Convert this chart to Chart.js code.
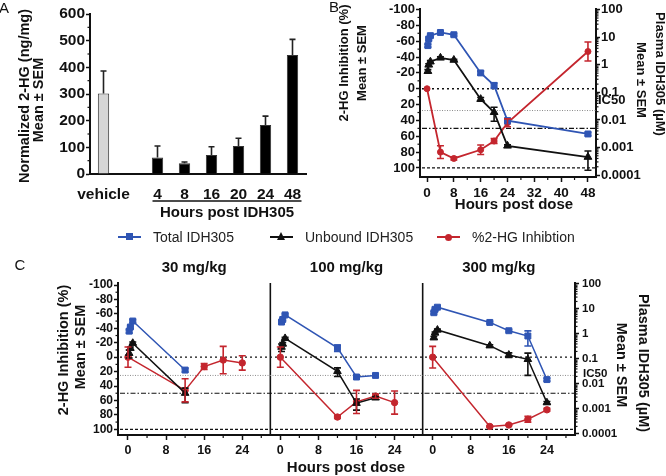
<!DOCTYPE html>
<html>
<head>
<meta charset="utf-8">
<script src="https://cdn.jsdelivr.net/npm/chart.js@4.4.0/dist/chart.umd.min.js"></script>
<style>
  html, body { margin: 0; padding: 0; background: #fff; }
  body { width: 666px; height: 476px; position: relative; overflow: hidden;
         font-family: "Liberation Sans", Arial, sans-serif; }
  canvas { position: absolute; }
  #cA { left: 0; top: 0; }
  #cB { left: 330px; top: 0; }
  #cC { left: 0; top: 250px; }
  .lg { position: absolute; top: 229px; height: 16px; font-size: 14px; line-height: 16px; color: #222; white-space: nowrap; }
  .lg .ln { position: absolute; left: 0; top: 7px; width: 23px; height: 2px; }
  .lg .mk { position: absolute; }
  .lg .sq { left: 8px; top: 4px; width: 7px; height: 7px; background: #2f55b4; }
  .lg .tri { left: 7px; top: 3px; width: 0; height: 0; border-left: 4.5px solid transparent;
             border-right: 4.5px solid transparent; border-bottom: 8px solid #111; }
  .lg .dot { left: 8px; top: 4.5px; width: 7px; height: 7px; border-radius: 50%; background: #c4262e; }
  .lg .t { position: absolute; left: 35px; top: 0; }
</style>
</head>
<body>
<canvas id="cA" width="330" height="230"></canvas>
<canvas id="cB" width="336" height="230"></canvas>
<div class="lg" style="left:118px"><i class="ln" style="background:#2f55b4"></i><i class="mk sq"></i><span class="t">Total IDH305</span></div>
<div class="lg" style="left:270px"><i class="ln" style="background:#111"></i><i class="mk tri"></i><span class="t">Unbound IDH305</span></div>
<div class="lg" style="left:437px"><i class="ln" style="background:#c4262e"></i><i class="mk dot"></i><span class="t">%2-HG Inhibtion</span></div>
<canvas id="cC" width="666" height="226"></canvas>
<script>
const FONT = '"Liberation Sans", Arial, Helvetica, sans-serif';
const INK = '#111';
const BLUE = '#2f55b4';
const RED = '#c4262e';
const GREY = '#d6d6d6';

// A: 2-HG in tumour, bars
const aLabels = ['vehicle', '', '4', '8', '16', '20', '24', '48'];
const aMean = [302, null, 62, 40, 71, 105, 184, 446];
const aSem = [84, null, 43, 5, 31, 29, 33, 59];

// B: time course, single dose
const bPkHours = [0.25, 0.5, 1, 4, 8, 16, 20, 24, 48];
const bTotal = [5.0, 8.7, 11.5, 15, 12.4, 0.51, 0.18, 0.0094, 0.0031];
const bTotalSem = [0.6, 0.8, 1.2, 1.5, 1.2, 0.08, 0.04, 0.002, 0.0004];
const bUnbound = [0.59, 1.0, 1.3, 1.8, 1.5, 0.057, 0.019, 0.00115, 0.00045];
const bUnboundSem = [0.08, 0.1, 0.12, 0.15, 0.1, 0.008, 0.01, 0.0001, 0.0003];
const bInhHours = [0, 4, 8, 16, 20, 24, 48];
const bInh = [0, 80, 88, 77, 66, 43, -47];
const bInhSem = [0, 8, 2, 6, 3, 5, 12];

// C: three doses
const cDoses = ['30 mg/kg', '100 mg/kg', '300 mg/kg'];
const cPkHours = [[0.25, 0.5, 1, 12], [0.25, 0.5, 1, 12, 16, 20], [0.25, 0.5, 1, 12, 16, 20, 24]];
const cTotal = [[1.3, 1.9, 3.3, 0.036], [3.0, 3.8, 5.8, 0.28, 0.019, 0.022], [7.1, 9.7, 11.8, 2.9, 1.35, 0.83, 0.015]];
const cTotalSem = [[0.2, 0.2, 0.4, 0.006], [0.4, 0.4, 0.6, 0.08, 0.003, 0.003], [0.8, 1, 1.2, 0.3, 0.15, 0.5, 0.002]];
const cUnbound = [[0.17, 0.27, 0.43, 0.0043], [0.3, 0.4, 0.67, 0.032, 0.0017, 0.0028], [0.71, 1.1, 1.45, 0.34, 0.145, 0.097, 0.0018]];
const cUnboundSem = [[0.06, 0.03, 0.05, 0.0025], [0.1, 0.05, 0.06, 0.012, 0.0008, 0.0003], [0.08, 0.1, 0.12, 0.03, 0.03, 0.075, 0.0002]];
const cInhHours = [[0, 12, 16, 20, 24], [0, 12, 16, 20, 24], [0, 12, 16, 20, 24]];
const cInh = [[0, 46, 13, 4, 8], [0, 83, 62, 54, 63], [0, 96, 94, 86, 73]];
const cInhSem = [[14, 16, 4, 19, 10], [14, 2, 16, 3, 16], [15, 1, 1, 4, 2]];

// reference levels shared by B and C
const inhLevels = [0, 50, 100];
const ic50 = 0.022;
const decades = [0.0001, 0.001, 0.01, 0.1, 1, 10, 100];

const cSpan = 32;   // hours per sub-panel on the shared C axis
const cStart = -2.1;

Chart.defaults.font.family = FONT;
Chart.defaults.color = INK;

function range(a, b, s) {
  const r = [];
  for (let v = a; v <= b + 1e-9; v += s) r.push(+v.toFixed(6));
  return r;
}
function logMinors() {
  const r = [];
  decades.slice(0, -1).forEach(d => { for (let k = 2; k < 10; k++) r.push(d * k); });
  return r;
}
function tickFont(size) { return { family: FONT, size: size, weight: 'bold' }; }

function makeTexts(items) {
  return {
    id: 'texts',
    afterDraw(chart) {
      const ctx = chart.ctx;
      items.forEach(t => {
        const pos = typeof t.at === 'function' ? t.at(chart) : t.at;
        ctx.save();
        ctx.translate(pos[0], pos[1]);
        if (t.rot) ctx.rotate(t.rot * Math.PI / 180);
        ctx.font = (t.normal ? '' : 'bold ') + (t.size || 15) + 'px ' + FONT;
        ctx.fillStyle = t.color || INK;
        ctx.textAlign = t.align || 'center';
        ctx.textBaseline = 'middle';
        ctx.fillText(t.text, 0, 0);
        ctx.restore();
      });
    }
  };
}

function makeMinor(list) {
  return {
    id: 'minor',
    afterDraw(chart) {
      const ctx = chart.ctx;
      ctx.save();
      ctx.strokeStyle = INK;
      ctx.lineWidth = 1.2;
      list.forEach(m => {
        const sc = chart.scales[m.id];
        m.values.forEach(v => {
          const p = sc.getPixelForValue(v);
          ctx.beginPath();
          if (sc.isHorizontal()) { ctx.moveTo(p, sc.top); ctx.lineTo(p, sc.top + m.len); }
          else if (sc.position === 'left') { ctx.moveTo(sc.right, p); ctx.lineTo(sc.right - m.len, p); }
          else { ctx.moveTo(sc.left, p); ctx.lineTo(sc.left + m.len, p); }
          ctx.stroke();
        });
      });
      ctx.restore();
    }
  };
}

const errorBars = {
  id: 'errorBars',
  afterDatasetsDraw(chart) {
    const ctx = chart.ctx;
    chart.data.datasets.forEach((ds, i) => {
      if (!ds.sem) return;
      const meta = chart.getDatasetMeta(i);
      const sc = chart.scales[meta.yAxisID];
      const cap = ds.cap || 3.5;
      ctx.save();
      ctx.strokeStyle = ds.errColor || ds.borderColor;
      ctx.lineWidth = 1.6;
      meta.data.forEach((el, j) => {
        const d = ds.data[j];
        const v = d !== null && typeof d === 'object' ? d.y : d;
        const s = ds.sem[j];
        if (v == null || !s) return;
        const top = sc.getPixelForValue(v + s);
        const bot = ds.upOnly ? el.y : sc.getPixelForValue(Math.max(v - s, sc.min));
        ctx.beginPath();
        ctx.moveTo(el.x, bot); ctx.lineTo(el.x, top);
        ctx.moveTo(el.x - cap, top); ctx.lineTo(el.x + cap, top);
        if (!ds.upOnly) { ctx.moveTo(el.x - cap, bot); ctx.lineTo(el.x + cap, bot); }
        ctx.stroke();
      });
      ctx.restore();
    });
  }
};

const refLines = {
  id: 'refLines',
  beforeDatasetsDraw(chart) {
    const { ctx, chartArea: ca } = chart;
    const y = chart.scales.y, y2 = chart.scales.y2;
    const rows = [
      [y.getPixelForValue(inhLevels[0]), [2, 3], INK, 1.4],
      [y2.getPixelForValue(ic50), [1, 1.5], '#8c8c8c', 1],
      [y.getPixelForValue(inhLevels[1]), [5, 2, 1.5, 2], INK, 1.1],
      [y.getPixelForValue(inhLevels[2]), [3, 2], INK, 1.2]
    ];
    ctx.save();
    rows.forEach(r => {
      ctx.beginPath();
      ctx.setLineDash(r[1]);
      ctx.strokeStyle = r[2];
      ctx.lineWidth = r[3];
      ctx.moveTo(ca.left + 2, r[0]);
      ctx.lineTo(ca.right, r[0]);
      ctx.stroke();
    });
    ctx.restore();
  }
};

function lineDs(xs, ys, sem, color, style, radius, axis, width) {
  return {
    data: xs.map((x, i) => ({ x: x, y: ys[i] })),
    sem: sem,
    borderColor: color,
    backgroundColor: color,
    borderWidth: width,
    pointStyle: style,
    pointRadius: radius,
    pointBorderWidth: 1,
    yAxisID: axis
  };
}

function axisBase(size) {
  return {
    grid: { drawOnChartArea: false, color: INK, tickLength: 4, tickWidth: 1.5 },
    border: { color: INK, width: 2 },
    ticks: { font: tickFont(size), color: INK, padding: 1, autoSkip: false, maxRotation: 0,
             callback: v => String(v) }
  };
}

// ---------- A ----------
new Chart(document.getElementById('cA'), {
  type: 'bar',
  data: {
    labels: aLabels,
    datasets: [{
      data: aMean,
      sem: aSem,
      upOnly: true,
      cap: 3,
      errColor: '#222',
      backgroundColor: aLabels.map(l => l === 'vehicle' ? GREY : '#000'),
      borderColor: '#333',
      borderWidth: 1,
      barPercentage: 0.42,
      categoryPercentage: 1
    }]
  },
  options: {
    responsive: false,
    animation: false,
    layout: { padding: { top: 14, right: 24, left: 0, bottom: 0 } },
    plugins: { legend: { display: false }, tooltip: { enabled: false } },
    scales: {
      x: {
        grid: { display: false, drawTicks: false },
        border: { color: INK, width: 2 },
        ticks: { font: tickFont(15.5), color: INK, padding: 11, maxRotation: 0, autoSkip: false },
        afterFit: s => { s.height = 56; }
      },
      y: Object.assign(axisBase(15.5), {
        min: 0, max: 600,
        afterBuildTicks: s => { s.ticks = range(0, 600, 100).map(v => ({ value: v })); },
        afterFit: s => { s.width = 90; }
      })
    }
  },
  plugins: [errorBars, makeMinor([{ id: 'y', values: range(50, 550, 100), len: 2.5 }]), makeTexts([
    { text: 'A', at: [4, 9], normal: true, size: 15 },
    { text: 'Normalized 2-HG (ng/mg)', at: [25, 96], rot: -90, size: 14.5 },
    { text: 'Mean \u00b1 SEM', at: [39, 100], rot: -90, size: 14.5 },
    { text: 'Hours post IDH305', at: [227, 213], size: 15 },
    { text: '', at: c => {
        const x = c.scales.x, y = 201;
        c.ctx.save();
        c.ctx.strokeStyle = INK; c.ctx.lineWidth = 1.3;
        c.ctx.beginPath();
        c.ctx.moveTo(x.getPixelForValue(2) - 5, y);
        c.ctx.lineTo(x.getPixelForValue(7) + 9, y);
        c.ctx.stroke();
        c.ctx.restore();
        return [0, 0];
      } }
  ])]
});

// ---------- B ----------
new Chart(document.getElementById('cB'), {
  type: 'line',
  data: {
    datasets: [
      lineDs(bPkHours, bTotal, bTotalSem, BLUE, 'rect', 4.2, 'y2', 1.8),
      lineDs(bPkHours, bUnbound, bUnboundSem, INK, 'triangle', 4.5, 'y2', 1.8),
      lineDs(bInhHours, bInh, bInhSem, RED, 'circle', 3, 'y', 1.8)
    ]
  },
  options: {
    responsive: false,
    animation: false,
    layout: { padding: { top: 4, right: 0, left: 0, bottom: 0 } },
    plugins: { legend: { display: false }, tooltip: { enabled: false } },
    scales: {
      x: Object.assign(axisBase(13.5), {
        type: 'linear', min: -2.1, max: 50.4,
        grid: { drawOnChartArea: false, color: INK, tickLength: 5, tickWidth: 1.5 },
        ticks: { font: tickFont(13.5), color: INK, padding: 3, maxRotation: 0, autoSkip: false },
        afterBuildTicks: s => { s.ticks = range(0, 48, 8).map(v => ({ value: v })); },
        afterFit: s => { s.height = 53; }
      }),
      y: Object.assign(axisBase(13), {
        type: 'linear', position: 'left', reverse: true, min: -100.9, max: 111.4,
        afterBuildTicks: s => { s.ticks = range(-100, 100, 20).map(v => ({ value: v })); },
        afterFit: s => { s.width = 90; }
      }),
      y2: Object.assign(axisBase(13), {
        type: 'logarithmic', position: 'right', min: 8.5e-5, max: 108.4,
        afterBuildTicks: s => { s.ticks = decades.map(v => ({ value: v })); },
        afterFit: s => { s.width = 70; }
      })
    }
  },
  plugins: [refLines, errorBars,
    makeMinor([
      { id: 'x', values: range(4, 44, 8), len: 3 },
      { id: 'y', values: range(-90, 90, 20), len: 2.5 },
      { id: 'y2', values: logMinors(), len: 2.5 }
    ]),
    makeTexts([
      { text: 'B', at: [4, 8], normal: true, size: 15 },
      { text: '2-HG Inhibition (%)', at: [14, 63], rot: -90, size: 13 },
      { text: 'Mean \u00b1 SEM', at: [32, 63], rot: -90, size: 13 },
      { text: 'Plasma IDH305 (\u00b5M)', at: [330, 74], rot: 90, size: 13 },
      { text: 'Mean \u00b1 SEM', at: [311, 80], rot: 90, size: 13 },
      { text: 'IC50', at: [268, 100], align: 'left', size: 13 },
      { text: 'Hours post dose', at: [184, 205], size: 15 }
    ])]
});

// ---------- C ----------
const cDatasets = [];
cDoses.forEach((dose, p) => {
  const shift = h => h + p * cSpan;
  cDatasets.push(lineDs(cPkHours[p].map(shift), cTotal[p], cTotalSem[p], BLUE, 'rect', 4.2, 'y2', 1.5));
  cDatasets.push(lineDs(cPkHours[p].map(shift), cUnbound[p], cUnboundSem[p], INK, 'triangle', 4.4, 'y2', 1.5));
  cDatasets.push(lineDs(cInhHours[p].map(shift), cInh[p], cInhSem[p], RED, 'circle', 3.2, 'y', 1.5));
});

const cTitles = cDoses.map((dose, p) => ({
  text: dose, size: 15,
  at: c => [c.scales.x.getPixelForValue(cStart + (p + 0.5) * cSpan), 18]
}));

const dividers = {
  id: 'dividers',
  beforeDatasetsDraw(chart) {
    const { ctx, chartArea: ca } = chart;
    ctx.save();
    ctx.strokeStyle = INK;
    ctx.lineWidth = 1.6;
    [1, 2].forEach(p => {
      const x = chart.scales.x.getPixelForValue(cStart + p * cSpan);
      ctx.beginPath();
      ctx.moveTo(x, ca.top);
      ctx.lineTo(x, ca.bottom);
      ctx.stroke();
    });
    ctx.restore();
  }
};

new Chart(document.getElementById('cC'), {
  type: 'line',
  data: { datasets: cDatasets },
  options: {
    responsive: false,
    animation: false,
    layout: { padding: { top: 33, right: 0, left: 0, bottom: 0 } },
    plugins: { legend: { display: false }, tooltip: { enabled: false } },
    scales: {
      x: Object.assign(axisBase(12.5), {
        type: 'linear', min: cStart, max: cStart + 3 * cSpan,
        grid: { drawOnChartArea: false, color: INK, tickLength: 5, tickWidth: 1.5 },
        ticks: { font: tickFont(12.5), color: INK, padding: 3, maxRotation: 0, autoSkip: false,
                 callback: v => String(v % cSpan) },
        afterBuildTicks: s => {
          s.ticks = [];
          cDoses.forEach((d, p) => range(0, 24, 8).forEach(h => s.ticks.push({ value: h + p * cSpan })));
        },
        afterFit: s => { s.height = 41; }
      }),
      y: Object.assign(axisBase(12), {
        type: 'linear', position: 'left', reverse: true, min: -102.8, max: 107.9,
        afterBuildTicks: s => { s.ticks = range(-100, 100, 20).map(v => ({ value: v })); },
        afterFit: s => { s.width = 118; }
      }),
      y2: Object.assign(axisBase(11.5), {
        type: 'logarithmic', position: 'right', min: 9.1e-5, max: 109.6,
        ticks: { font: tickFont(11.5), color: INK, padding: 3, autoSkip: false, callback: v => String(v) },
        afterBuildTicks: s => { s.ticks = decades.map(v => ({ value: v })); },
        afterFit: s => { s.width = 91; }
      })
    }
  },
  plugins: [dividers, refLines, errorBars,
    makeMinor([
      { id: 'x', values: [].concat(...cDoses.map((d, p) => range(4, 28, 8).map(h => h + p * cSpan))), len: 3 },
      { id: 'y', values: range(-90, 90, 20), len: 2.5 },
      { id: 'y2', values: logMinors(), len: 2.5 }
    ]),
    makeTexts([
      { text: 'C', at: [20, 16], normal: true, size: 15 },
      { text: '2-HG Inhibition (%)', at: [64, 100], rot: -90, size: 14.5 },
      { text: 'Mean \u00b1 SEM', at: [81, 97], rot: -90, size: 14.5 },
      { text: 'Plasma IDH305 (\u00b5M)', at: [643, 113], rot: 90, size: 14.5 },
      { text: 'Mean \u00b1 SEM', at: [621, 115], rot: 90, size: 14.5 },
      { text: 'IC50', at: [583, 124], align: 'left', size: 11.5 },
      { text: 'Hours post dose', at: [346, 218], size: 15 }
    ].concat(cTitles))]
});
</script>
</body>
</html>
